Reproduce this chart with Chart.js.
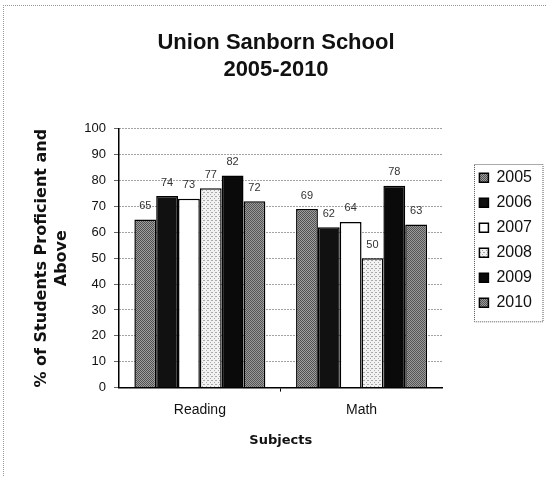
<!DOCTYPE html>
<html lang="en">
<head>
  <meta charset="UTF-8">
  <title>Union Sanborn School</title>
  <script src="https://cdn.jsdelivr.net/npm/chart.js"></script>
  <style>
    body {
      margin: 0;
      background: #FFFFFF;
    }

    .frame {
      position: absolute;
      left: 3px;
      top: 5px;
      width: 600px;
      height: 480px;
      border-left: 1px dotted #999;
      border-top: 1px dotted #999;
    }

    .wrap {
      position: absolute;
      left: 0;
      top: 0;
      width: 546px;
      height: 477px;
    }
  </style>
</head>
<body>
  <div class="frame"></div>
  <div class="wrap"><canvas id="chart" width="546" height="477"></canvas></div>

  <script>
    const subjects = ['Reading', 'Math'];
    const years = ['2005', '2006', '2007', '2008', '2009', '2010'];
    // one array per year: [Reading, Math]
    const y2005 = [65, 69];
    const y2006 = [74, 62];
    const y2007 = [73, 64];
    const y2008 = [77, 50];
    const y2009 = [82, 78];
    const y2010 = [72, 63];
    const yearValues = [y2005, y2006, y2007, y2008, y2009, y2010];

    // little dither patterns, like the old printed Excel fills
    function makePattern(base, dot, spots) {
      const c = document.createElement('canvas');
      c.width = 4;
      c.height = 4;
      const x = c.getContext('2d');
      x.fillStyle = base;
      x.fillRect(0, 0, 4, 4);
      x.fillStyle = dot;
      spots.forEach(p => x.fillRect(p[0], p[1], 1, 1));
      return x.createPattern(c, 'repeat');
    }

    const checker = [[0,0],[2,0],[1,1],[3,1],[0,2],[2,2],[1,3],[3,3]];
    const fills = [
      makePattern('#A0A0A0', '#505050', checker),
      '#111111',
      '#FFFFFF',
      makePattern('#F2F2F2', '#A8A8A8', [[0,0],[2,2],[3,0]]),
      '#0A0A0A',
      makePattern('#9A9A9A', '#555555', checker)
    ];

    const datasets = years.map((yr, i) => ({
      label: yr,
      data: yearValues[i],
      backgroundColor: fills[i],
      borderColor: '#000000',
      borderWidth: 1.5,
      borderSkipped: 'bottom',
      categoryPercentage: 0.81,
      barPercentage: 1.0
    }));

    // value labels over each bar
    const barLabels = {
      id: 'barLabels',
      afterDatasetsDraw(chart) {
        const ctx = chart.ctx;
        ctx.save();
        ctx.font = '11px "Liberation Sans", Arial, sans-serif';
        ctx.fillStyle = '#333333';
        ctx.textAlign = 'center';
        ctx.textBaseline = 'bottom';
        chart.data.datasets.forEach((ds, i) => {
          chart.getDatasetMeta(i).data.forEach((bar, j) => {
            ctx.fillText(ds.data[j], bar.x, bar.y - 8);
          });
        });
        ctx.restore();
      }
    };

    // frame round the legend
    const legendFrame = {
      id: 'legendFrame',
      afterDraw(chart) {
        const boxes = chart.legend.legendHitBoxes;
        if (!boxes || !boxes.length) return;
        const first = boxes[0];
        const last = boxes[boxes.length - 1];
        const ctx = chart.ctx;
        ctx.save();
        ctx.strokeStyle = '#555555';
        ctx.lineWidth = 1;
        ctx.setLineDash([1, 1]);
        const x0 = Math.round(first.left - 5) + 0.5;
        const y0 = Math.round(first.top - 6) + 0.5;
        ctx.strokeRect(x0, y0, 543 - x0, last.top + last.height + 11 - y0);
        ctx.restore();
      }
    };

    new Chart(document.getElementById('chart'), {
      type: 'bar',
      data: { labels: subjects, datasets: datasets },
      options: {
        responsive: false,
        animation: false,
        layout: { padding: { left: 10, right: 4, top: 6, bottom: 10 } },
        plugins: {
          title: {
            display: true,
            text: ['Union Sanborn School', '2005-2010'],
            color: '#111111',
            font: { family: '"Liberation Sans", Arial, sans-serif', size: 22, weight: 'bold', lineHeight: 1.2 },
            padding: { top: 24, bottom: 46 }
          },
          legend: {
            position: 'right',
            align: 'start',
            fullSize: false,
            title: { display: true, text: '', font: { size: 12, lineHeight: 1 }, padding: { top: 20, bottom: 0 } },
            labels: {
              boxWidth: 9,
              boxHeight: 9,
              padding: 9,
              color: '#111111',
              font: { family: '"Liberation Sans", Arial, sans-serif', size: 16 }
            }
          },
          tooltip: { enabled: false }
        },
        scales: {
          x: {
            grid: {
              offset: true,
              display: true,
              drawOnChartArea: true,
              color: ctx => ctx.index === 2 ? '#444444' : 'rgba(0,0,0,0)',
              tickColor: ctx => ctx.index === 1 ? '#000000' : 'rgba(0,0,0,0)',
              tickLength: 4
            },
            border: { color: '#000000', width: 1.5, dash: [1, 2] },
            ticks: {
              color: '#111111',
              padding: 10,
              font: { family: '"Liberation Sans", Arial, sans-serif', size: 14 }
            },
            title: {
              display: true,
              text: 'Subjects',
              color: '#111111',
              font: { family: '"DejaVu Sans", sans-serif', size: 13, weight: 'bold', lineHeight: 1.2 },
              padding: { top: 4, bottom: 19 }
            }
          },
          y: {
            min: 0,
            max: 100,
            ticks: {
              stepSize: 10,
              color: '#111111',
              padding: 8,
              font: { family: '"Liberation Sans", Arial, sans-serif', size: 13 }
            },
            grid: { color: '#444444', tickColor: '#666666', tickLength: 5 },
            border: { color: '#000000', width: 1.5, dash: [1, 2] },
            title: {
              display: true,
              text: ['% of Students Proficient and', 'Above'],
              color: '#111111',
              font: { family: '"DejaVu Sans", sans-serif', size: 16, weight: 'bold', lineHeight: 1.3 },
              padding: { top: 21, bottom: 10 }
            },
            afterFit: s => { s.width = 109; }
          },
          gap: {
            type: 'linear',
            position: 'right',
            display: true,
            grid: { display: false },
            border: { display: false },
            ticks: { display: false },
            afterFit: s => { s.width = 28; }
          }
        }
      },
      plugins: [barLabels, legendFrame]
    });
  </script>
</body>
</html>
